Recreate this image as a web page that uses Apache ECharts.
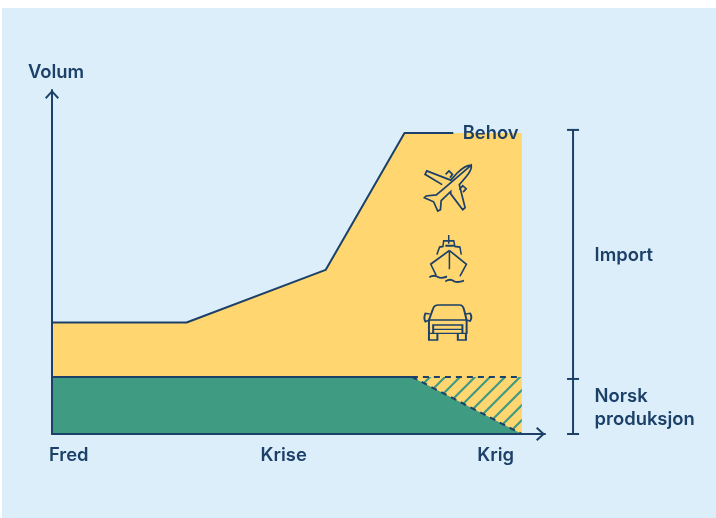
<!DOCTYPE html>
<html>
<head>
<meta charset="utf-8">
<title>Volum</title>
<script src="https://cdn.jsdelivr.net/npm/echarts@6/dist/echarts.min.js"></script>
<style>
    html,body{margin:0;padding:0;background:#fff;}
    #panel{position:absolute;left:2px;top:8px;width:714px;height:510px;background:#dbeefa;}
    #main{position:absolute;left:0;top:0;width:716px;height:518px;}
</style>
</head>
<body>
<div id="panel"></div>
<div id="main"></div>
<script>
    // data in axis units (both axes run 0-100)
    var BEHOV = [[0,32.4],[27.3,32.4],[55.5,47.7],[71.5,87.5],[95.3,87.5]];
    var BEHOV_LINE = [[0,32.4],[27.3,32.4],[55.5,47.7],[71.5,87.5],[81.4,87.5]];
    var NORSK = [[0,16.6],[73,16.6],[95.3,0]];
    var NORSK_SOLID = [[0,16.6],[73,16.6]];
    var NORSK_FALL = [[73,16.6],[95.3,0]];
    var FULL_PROD = [[73,16.6],[95.3,16.6]];
    var X_TICKS = [3.4,47,90];
    var X_LABELS = ['Fred','Krise','Krig'];
    var BEHOV_TEXT = [{name:'Behov',value:[83.3,87.5]}];
    var ICONS = [[80.3,71.5],[80.3,51],[80.3,32.4]];
    // right hand bracket, second grid
    var BRACKET = [[16.4,88.4],[16.4,16],[16.4,0]];
    var SIDE_TEXT = [
        {name:'Import',value:[29,52]},
        {name:'Norsk\nproduksjon',value:[29,7.7]}
    ];

    var NAVY = '#1c4068', GREEN = '#3f9b82', YELLOW = '#ffd66f';
    var FONT = 'Inter';

    var PLANE = 'path://M210 138C195 138 180 150 168 162L150 182L80 155L75 165L125 195M135 202L108 225L78 228L73 233L100 245L112 272L120 268L122 242L150 215L150 222L185 268L192 262L175 195L195 172C205 160 212 150 210 138ZM135 165L145 155L155 165L148 175M175 210L185 198L195 207L186 217';
    var SHIP = 'path://M145 345V370M110 402L118 380L128 378L130 362H160L163 378L178 380L182 402M135 376H160M147 390V445M147 390L92 430L108 462M147 390L197 430L178 465M88 468C98 462 106 462 114 468C122 472 130 470 140 466M135 480C145 474 153 474 161 480C170 484 180 482 190 478';
    var CAR = 'path://M88 600L100 565Q103 555 115 555H175Q185 555 188 570L195 600ZM88 600V640H195V600M88 640V660H112V640M170 640V660H193V640M100 640V615H183V640M100 628H183M88 600L78 605Q72 595 78 580L90 582M195 600L205 603Q212 592 205 580L192 582';

    // open chevron for the axis ends
    var ARROW = 'path://M7 0L14 7.6L12.6 9L7 2.8L1.4 9L0 7.6Z';

    var chart = echarts.init(document.getElementById('main'));

    // hatch pattern for the lost production
    function hatch(){
        var c = document.createElement('canvas');
        c.width = c.height = 15;
        var g = c.getContext('2d');
        g.strokeStyle = GREEN;
        g.lineWidth = 2.2;
        g.beginPath();
        g.moveTo(-3,15);g.lineTo(15,-3);
        g.moveTo(-3,30);g.lineTo(30,-3);
        g.moveTo(-3,0);g.lineTo(0,-3);
        g.stroke();
        return {image:c,repeat:'repeat'};
    }

    function iconSeries(path,point,w,h){
        return {
            type:'scatter',symbol:path,symbolSize:[w,h],
            itemStyle:{color:'none',borderColor:NAVY,borderWidth:1.7,opacity:1},
            data:[point],z:5,silent:true
        };
    }

    function textSeries(data,xi,yi){
        return {
            type:'scatter',data:data,symbolSize:0,clip:false,z:6,silent:true,xAxisIndex:xi,yAxisIndex:yi,
            itemStyle:{opacity:1},
            label:{
                show:true,position:'right',distance:0,color:NAVY,fontFamily:FONT,fontWeight:600,fontSize:18.4,lineHeight:23,
                formatter:function(p){return p.name;}
            }
        };
    }

    var option = {
        animation:false,
        grid:[
            {left:52,top:90,width:493,height:344},
            {left:545,top:90,width:171,height:344}
        ],
        textStyle:{fontFamily:FONT},
        xAxis:[{
            type:'value',min:0,max:100,splitLine:{show:false},z:10,
            axisLine:{onZero:false,lineStyle:{color:NAVY,width:2},symbol:['none',ARROW],symbolSize:[14,9],symbolOffset:[0,-4.5]},
            axisTick:{show:false},
            axisLabel:{
                customValues:X_TICKS,color:NAVY,fontFamily:FONT,fontWeight:600,fontSize:18.4,margin:12,
                formatter:function(v){return X_LABELS[X_TICKS.indexOf(v)];}
            }
        },{
            type:'value',gridIndex:1,min:0,max:100,show:false
        }],
        yAxis:[{
            type:'value',min:0,max:100,splitLine:{show:false},z:10,
            name:'Volum',nameLocation:'end',nameGap:9,
            nameTextStyle:{color:NAVY,fontFamily:FONT,fontWeight:600,fontSize:18.4,align:'center',padding:[0,0,0,8]},
            axisLine:{lineStyle:{color:NAVY,width:2},symbol:['none',ARROW],symbolSize:[14,9],symbolOffset:[0,-4.5]},
            axisTick:{show:false},axisLabel:{show:false}
        },{
            type:'value',gridIndex:1,min:0,max:100,show:false
        }],
        series:[
            {type:'line',data:BEHOV,symbol:'none',lineStyle:{width:0},areaStyle:{color:YELLOW,opacity:1},z:1},
            {type:'line',data:FULL_PROD,symbol:'none',lineStyle:{width:0},areaStyle:{color:hatch(),opacity:1},z:2},
            {type:'line',data:NORSK,symbol:'none',lineStyle:{width:0},areaStyle:{color:GREEN,opacity:1},z:3},
            {type:'line',data:BEHOV_LINE,symbol:'none',lineStyle:{color:NAVY,width:2},z:4},
            {type:'line',data:NORSK_SOLID,symbol:'none',lineStyle:{color:NAVY,width:2},z:4},
            {type:'line',data:NORSK_FALL,symbol:'none',lineStyle:{color:NAVY,width:2,type:[6,5]},z:4},
            {type:'line',data:FULL_PROD,symbol:'none',lineStyle:{color:NAVY,width:2,type:[6,5]},z:4},
            {type:'line',data:BRACKET,xAxisIndex:1,yAxisIndex:1,symbol:'rect',symbolSize:[12,2],showAllSymbol:true,
                itemStyle:{color:NAVY},lineStyle:{color:NAVY,width:2},z:4},
            iconSeries(PLANE,ICONS[0],47,46),
            iconSeries(SHIP,ICONS[1],37,47),
            iconSeries(CAR,ICONS[2],47,35),
            textSeries(BEHOV_TEXT,0,0),
            textSeries(SIDE_TEXT,1,1)
        ]
    };
    chart.setOption(option);
</script>
</body>
</html>
